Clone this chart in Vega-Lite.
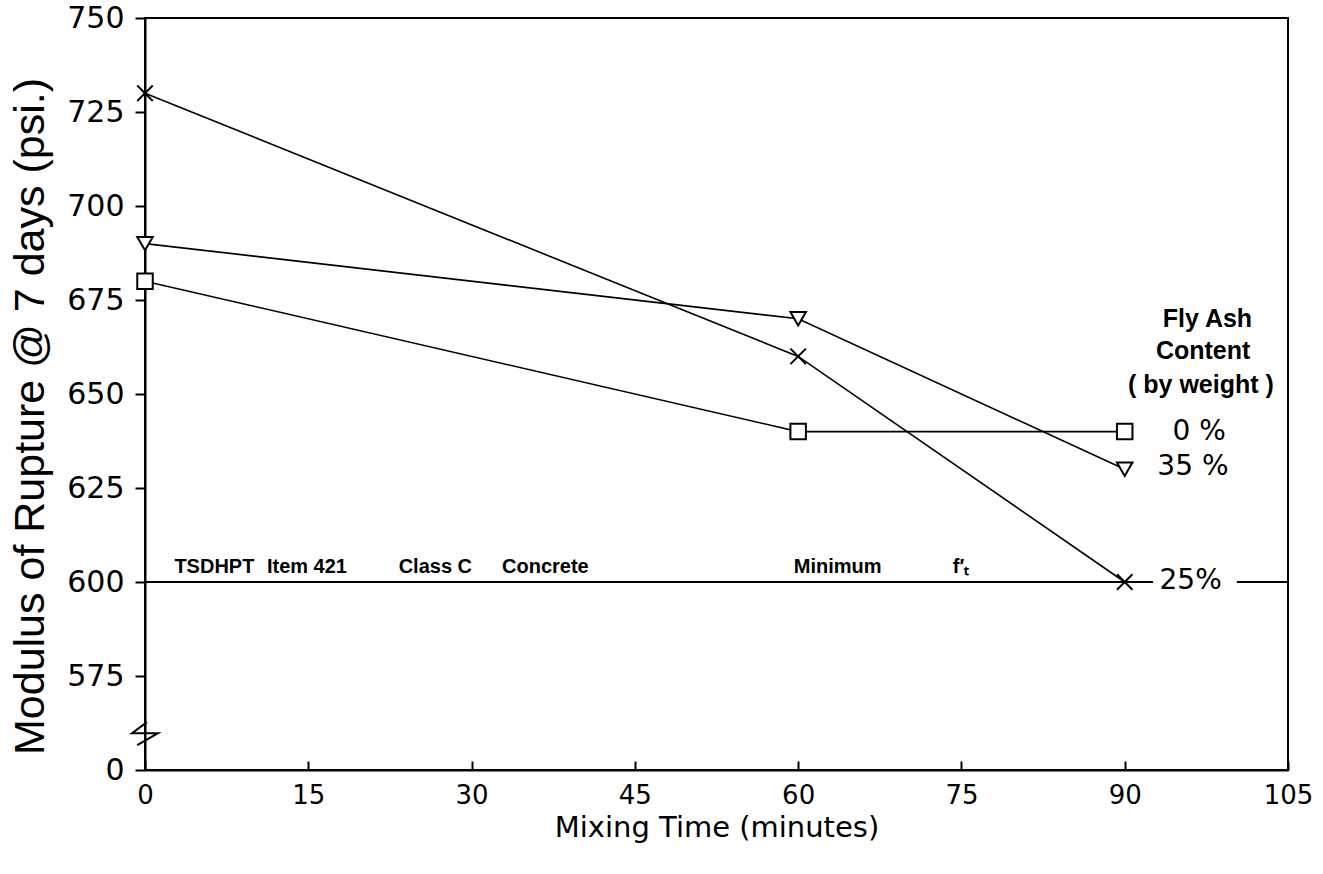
{
  "$schema": "https://vega.github.io/schema/vega-lite/v6.json",
  "width": 1143,
  "height": 752,
  "autosize": {"type": "none"},
  "padding": {"left": 145, "top": 18, "right": 35, "bottom": 104},
  "background": "white",
  "config": {
    "view": {"stroke": "black", "strokeWidth": 2},
    "font": "Liberation Sans"
  },
  "datasets": {
    "series": [
      {"time": 0, "mor": 680, "content": "0%"},
      {"time": 60, "mor": 640, "content": "0%"},
      {"time": 90, "mor": 640, "content": "0%"},
      {"time": 0, "mor": 730, "content": "25%"},
      {"time": 60, "mor": 660, "content": "25%"},
      {"time": 90, "mor": 600, "content": "25%"},
      {"time": 0, "mor": 690, "content": "35%"},
      {"time": 60, "mor": 670, "content": "35%"},
      {"time": 90, "mor": 630, "content": "35%"}
    ],
    "ref": [
      {"x": 0, "x2": 92.6, "y": 600},
      {"x": 100.3, "x2": 105, "y": 600}
    ],
    "note": [
      {"x": 2.7, "y": 602.5, "text": "TSDHPT"},
      {"x": 11.2, "y": 602.5, "text": "Item 421"},
      {"x": 23.3, "y": 602.5, "text": "Class C"},
      {"x": 32.8, "y": 602.5, "text": "Concrete"},
      {"x": 59.6, "y": 602.5, "text": "Minimum"},
      {"x": 74.2, "y": 602.5, "text": "f′ₜ"}
    ],
    "head": [
      {"x": 97.6, "y": 670.0, "text": "Fly Ash"},
      {"x": 97.2, "y": 661.4, "text": "Content"},
      {"x": 97.0, "y": 652.4, "text": "( by weight )"}
    ],
    "slab": [
      {"x": 94.4, "y": 640, "text": "0 %"},
      {"x": 93.0, "y": 630.6, "text": "35 %"},
      {"x": 93.2, "y": 600.3, "text": "25%"}
    ],
    "brk": [{"x": 0, "y": 559.8}]
  },
  "layer": [
    {
      "data": {"name": "ref"},
      "mark": {"type": "rule", "color": "black", "strokeWidth": 2},
      "encoding": {
        "x": {"field": "x", "type": "quantitative", "scale": {"domain": [0, 105], "nice": false},
          "axis": {
            "values": [0, 15, 30, 45, 60, 75, 90, 105],
            "title": "Mixing Time (minutes)",
            "titleFont": "DejaVu Sans", "titleFontSize": 29, "titleFontWeight": "normal", "titleColor": "black",
            "titlePadding": 5,
            "labelFont": "DejaVu Sans", "labelFontSize": 26, "labelColor": "black",
            "labelFlush": false,
            "labelPadding": 21,
            "tickSize": -9, "tickColor": "black", "tickWidth": 2,
            "domainColor": "black", "domainWidth": 2,
            "grid": false
          }},
        "x2": {"field": "x2"},
        "y": {"field": "y", "type": "quantitative", "scale": {"domain": [550, 750], "nice": false, "zero": false},
          "axis": {
            "values": [550, 575, 600, 625, 650, 675, 700, 725, 750],
            "labelExpr": "datum.value == 550 ? '0' : datum.label",
            "title": "Modulus of Rupture @ 7 days (psi.)",
            "titleFont": "Liberation Sans", "titleFontSize": 43, "titleFontWeight": "normal", "titleColor": "black",
            "titleAngle": -90, "titleAlign": "center", "titleBaseline": "alphabetic",
            "titleX": -102, "titleY": 398,
            "labelFont": "DejaVu Sans", "labelFontSize": 30, "labelColor": "black",
            "labelFlush": false,
            "labelPadding": 11,
            "tickSize": 10, "tickColor": "black", "tickWidth": 2,
            "domainColor": "black", "domainWidth": 2,
            "grid": false
          }}
      }
    },
    {
      "data": {"name": "series"},
      "mark": {"type": "line", "color": "black", "strokeWidth": 1.6},
      "encoding": {
        "x": {"field": "time", "type": "quantitative"},
        "y": {"field": "mor", "type": "quantitative"},
        "detail": {"field": "content"}
      }
    },
    {
      "data": {"name": "series"},
      "mark": {"type": "point", "filled": false, "fill": "white", "fillOpacity": 1, "stroke": "black", "strokeWidth": 2, "opacity": 1},
      "encoding": {
        "x": {"field": "time", "type": "quantitative"},
        "y": {"field": "mor", "type": "quantitative"},
        "shape": {"field": "content", "type": "nominal",
          "scale": {"domain": ["0%", "25%", "35%"], "range": ["square", "M-1,-1L1,1M1,-1L-1,1", "triangle-down"]},
          "legend": null},
        "size": {"value": 240}
      }
    },
    {
      "data": {"name": "note"},
      "mark": {"type": "text", "align": "left", "baseline": "alphabetic", "font": "Liberation Sans", "fontWeight": "bold", "fontSize": 20, "color": "black"},
      "encoding": {
        "x": {"field": "x", "type": "quantitative"},
        "y": {"field": "y", "type": "quantitative"},
        "text": {"field": "text"}
      }
    },
    {
      "data": {"name": "head"},
      "mark": {"type": "text", "align": "center", "baseline": "middle", "font": "Liberation Sans", "fontWeight": "bold", "fontSize": 25, "color": "black"},
      "encoding": {
        "x": {"field": "x", "type": "quantitative"},
        "y": {"field": "y", "type": "quantitative"},
        "text": {"field": "text"}
      }
    },
    {
      "data": {"name": "slab"},
      "mark": {"type": "text", "align": "left", "baseline": "middle", "font": "DejaVu Sans", "fontSize": 28, "color": "black"},
      "encoding": {
        "x": {"field": "x", "type": "quantitative"},
        "y": {"field": "y", "type": "quantitative"},
        "text": {"field": "text"}
      }
    },
    {
      "data": {"name": "brk"},
      "mark": {"type": "point", "shape": "M0.15,-0.85L-1,0L1,0L-0.6,0.92", "filled": false, "stroke": "black", "strokeWidth": 2, "size": 676, "opacity": 1},
      "encoding": {
        "x": {"field": "x", "type": "quantitative"},
        "y": {"field": "y", "type": "quantitative"}
      }
    }
  ]
}
